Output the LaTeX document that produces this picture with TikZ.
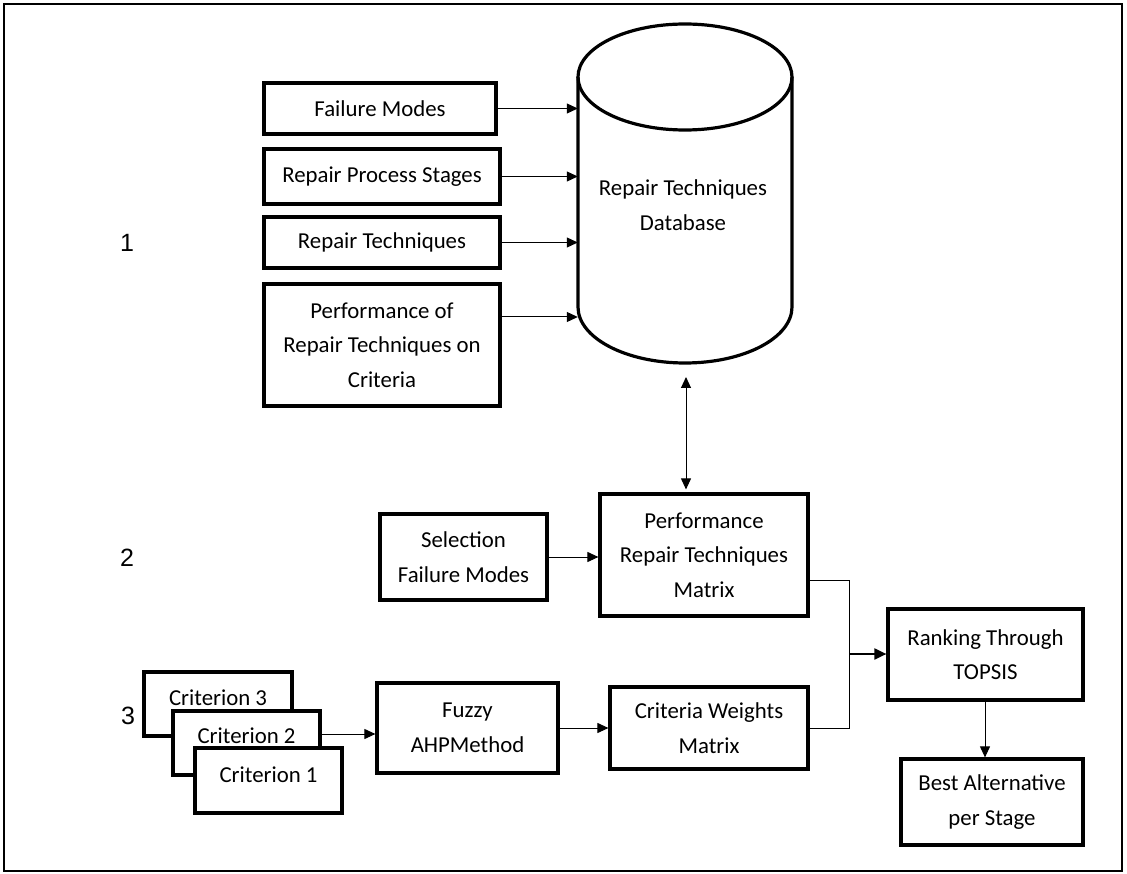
\documentclass[tikz,border=0pt]{standalone}
\usepackage{fontspec}
\setmainfont{Carlito}
\newfontfamily\arialf{Liberation Sans}
\usetikzlibrary{arrows.meta}
\begin{document}
\begin{tikzpicture}[x=1pt,y=-1pt,
  box/.style={draw, line width=3.2pt, fill=white, align=center, inner sep=0pt,
    font=\fontsize{22.8}{34.5}\selectfont},
  conn/.style={line width=1pt, -{Triangle[length=11pt,width=10pt]}},
  num/.style={font=\arialf\fontsize{25}{28}\selectfont}]
\useasboundingbox (0,0) rectangle (1127,874);
\draw[line width=2pt] (4,4) rectangle (1122,871);

% top inputs
\node[box, minimum width=232pt, minimum height=51pt] (fm) at (380,108.5) {Failure Modes};
\node[box, minimum width=236pt, minimum height=55pt] (rps) at (382,176.5) {Repair Process Stages};
\node[box, minimum width=236pt, minimum height=51pt] (rt) at (382,242.5) {Repair Techniques};
\node[box, minimum width=236pt, minimum height=122pt] (perfc) at (382,345) {Performance of\\Repair Techniques on\\Criteria};

% database cylinder
\draw[line width=3.2pt, fill=white] (578,77) -- (578,307) arc[start angle=180, end angle=0, x radius=107, y radius=56] -- (792,77);
\draw[line width=3.2pt] (685,77) ellipse [x radius=107, y radius=53];
\node[minimum width=214pt, minimum height=230pt, inner sep=0pt] (dbx) at (685,192) {};
\node[align=center, font=\fontsize{22.8}{34.5}\selectfont] (db) at (683,205) {Repair Techniques\\Database};
\coordinate (dbbot) at (686,377);

\draw[conn] (fm.east) -- (fm.east -| dbx.west);
\draw[conn] (rps.east) -- (rps.east -| dbx.west);
\draw[conn] (rt.east) -- (rt.east -| dbx.west);
\draw[conn] ([yshift=28pt]perfc.east) -- ([yshift=28pt]perfc.east -| dbx.west);

% middle
\node[box, minimum width=208pt, minimum height=122pt] (prm) at (704,555) {Performance\\Repair Techniques\\Matrix};
\node[box, minimum width=167pt, minimum height=86pt] (sel) at (463.5,557) {Selection\\Failure Modes};
\draw[line width=1pt, {Triangle[length=11pt,width=10pt]}-{Triangle[length=11pt,width=10pt]}] (dbbot) -- ([yshift=3pt]dbbot |- prm.north);
\draw[conn] (sel.east) -- (sel.east -| prm.west);

% criteria
\node[box, minimum width=148pt, minimum height=64pt] (c3) at (218,704) {\raisebox{-1pt}[0pt][0pt]{Criterion 3}};
\node[box, minimum width=147pt, minimum height=64pt] (c2) at (246.5,743) {\raisebox{0pt}[0pt][0pt]{Criterion 2}};
\node[box, minimum width=147pt, minimum height=65pt] (c1) at (268.5,780.5) {\raisebox{-1.5pt}[0pt][0pt]{Criterion 1}};
\node[box, minimum width=181pt, minimum height=90pt] (fuz) at (467.5,728) {Fuzzy\\AHPMethod};
\node[box, minimum width=198pt, minimum height=82pt] (cwm) at (709,728) {Criteria Weights\\Matrix};
\draw[conn] ([yshift=9pt]c2.east) -- ([yshift=9pt]c2.east -| fuz.west);
\draw[conn] (fuz.east) -- (fuz.east -| cwm.west);

% ranking
\node[box, minimum width=195pt, minimum height=91pt] (rank) at (985.5,654.5) {Ranking Through\\TOPSIS};
\node[box, minimum width=182pt, minimum height=86pt] (best) at (992,802) {Best Alternative\\per Stage};
\coordinate (m) at (849,654);
\draw[line width=1pt] ([yshift=-25pt]prm.east) -| (m) |- (cwm.east);
\draw[line width=2pt, -{Triangle[length=12pt,width=11pt]}] (m) -- (m -| rank.west);
\draw[conn] (rank.south -| 985,0) -- (best.north -| 985,0);

% stage numbers
\node[num] (l1) at (127,243) {1};
\node[num] (l2) at (127,558) {2};
\node[num] (l3) at (128,716) {3};
\end{tikzpicture}
\end{document}
